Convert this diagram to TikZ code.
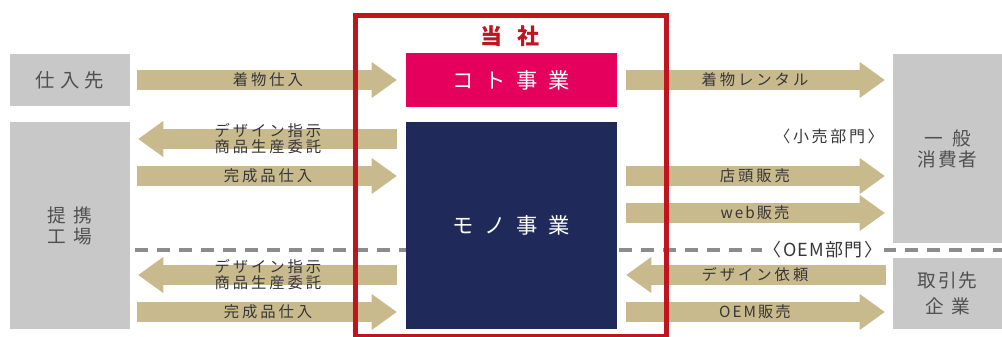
\documentclass[tikz,border=0pt]{standalone}
\usepackage{fontspec}
\setmainfont{Noto Sans CJK JP}
\usetikzlibrary{arrows.meta}
\definecolor{tanc}{RGB}{201,186,142}
\definecolor{boxgray}{RGB}{200,200,200}
\definecolor{boxtext}{RGB}{80,80,80}
\definecolor{labtext}{RGB}{55,55,55}
\definecolor{pinkc}{RGB}{228,0,92}
\definecolor{navyc}{RGB}{31,42,90}
\definecolor{redc}{RGB}{192,20,30}
\definecolor{dashc}{RGB}{140,140,140}
% letter spacing helper
\def\lspgobble#1{}
\def\lspkeep#1{#1}
\def\lspiter#1#2{#1\ifx\relax#2\expandafter\lspgobble\else\hspace{\lspgap}\expandafter\lspkeep\fi{\lspiter#2}}
\newcommand\lsp[2]{\def\lspgap{#1}\lspiter#2\relax}
\begin{document}
\begin{tikzpicture}[x=0.75pt,y=-0.75pt,
  graybox/.style={fill=boxgray, draw=none, inner sep=0pt, text=boxtext, align=center},
  bizbox/.style={draw=none, inner sep=0pt, text=white, font=\fontsize{16}{18}\selectfont},
  barrow/.style={draw=tanc, line width=15pt,
    -{Triangle[length=18.75pt,width=27pt,line width=0pt]}},
  alabel/.style={text=labtext, inner sep=0pt, align=center,
    font=\fontsize{11.5}{12}\selectfont},
  dashline/.style={draw=dashc, line width=3pt, dash pattern=on 9.75pt off 6.75pt},
  redframe/.style={draw=redc, line width=3.75pt}
]
\useasboundingbox (0,0) rectangle (1002,336);

% row coordinates
\coordinate (r1) at (0,80);
\coordinate (r2) at (0,139);
\coordinate (r3) at (0,176);
\coordinate (r4) at (0,275);
\coordinate (r5) at (0,312);
\coordinate (q3) at (0,176);
\coordinate (q4) at (0,213);
\coordinate (q5) at (0,275);
\coordinate (q6) at (0,312);
\coordinate (dl) at (135,250);
\coordinate (dr) at (1002,250);

% dashed divider (drawn first, boxes cover it)
\draw[dashline] (dl) -- (dr);

% boxes
\node[graybox, minimum width=90pt, minimum height=39pt,
  font=\fontsize{14.5}{16}\selectfont] (shiire) at (70,80) {\lsp{4pt}{仕入先}};
\node[graybox, minimum width=90pt, minimum height=155.25pt,
  font=\fontsize{14}{15.75}\selectfont] (kojo) at (70,225.5) {\lsp{5.5pt}{提携}\\\lsp{5.5pt}{工場}};
\node[bizbox, fill=pinkc, minimum width=158.25pt, minimum height=40.5pt] (koto) at (511.5,80) {\lsp{8pt}{コト事業}};
\node[bizbox, fill=navyc, minimum width=158.25pt, minimum height=155.25pt] (mono) at (511.5,225.5) {\lsp{8pt}{モノ事業}};
\node[graybox, minimum width=81.75pt, minimum height=141.75pt,
  font=\fontsize{14}{15.75}\selectfont] (ippan) at (947.5,148.5) {\lsp{7pt}{一般}\\\lsp{1.5pt}{消費者}};
\node[graybox, minimum width=81.75pt, minimum height=53.25pt,
  font=\fontsize{14}{19.5}\selectfont] (tori) at (947.5,293.5) {\lsp{1.5pt}{取引先}\\\lsp{5.5pt}{企業}};

% left arrows
\draw[barrow, shorten <=5.25pt, shorten >=6.75pt] (shiire.east |- r1) -- node[alabel]{\lsp{2.2pt}{着物仕入}} (koto.west |- r1);
\draw[barrow, shorten <=6.75pt, shorten >=6pt] (mono.west |- r2) -- node[alabel]{\lsp{2.2pt}{デザイン指示}\\\lsp{2.2pt}{商品生産委託}} (kojo.east |- r2);
\draw[barrow, shorten <=5.25pt, shorten >=6.75pt] (kojo.east |- r3) -- node[alabel]{\lsp{2.2pt}{完成品仕入}} (mono.west |- r3);
\draw[barrow, shorten <=6.75pt, shorten >=6pt] (mono.west |- r4) -- node[alabel]{\lsp{2.2pt}{デザイン指示}\\\lsp{2.2pt}{商品生産委託}} (kojo.east |- r4);
\draw[barrow, shorten <=5.25pt, shorten >=6.75pt] (kojo.east |- r5) -- node[alabel]{\lsp{2.2pt}{完成品仕入}} (mono.west |- r5);

% right arrows
\draw[barrow, shorten <=6.75pt, shorten >=6pt] (koto.east |- r1) -- node[alabel]{\lsp{2.2pt}{着物レンタル}} (ippan.west |- r1);
\draw[barrow, shorten <=6.75pt, shorten >=6pt] (mono.east |- q3) -- node[alabel]{\lsp{2.2pt}{店頭販売}} (ippan.west |- q3);
\draw[barrow, shorten <=6.75pt, shorten >=6pt] (mono.east |- q4) -- node[alabel]{\lsp{1.5pt}{web販売}} (ippan.west |- q4);
\draw[barrow, shorten <=5.25pt, shorten >=6.75pt] (tori.west |- q5) -- node[alabel]{\lsp{2.2pt}{デザイン依頼}} (mono.east |- q5);
\draw[barrow, shorten <=6.75pt, shorten >=6pt] (mono.east |- q6) -- node[alabel]{\lsp{1.5pt}{OEM販売}} (tori.west |- q6);

% section labels
\node[text=labtext, inner sep=0pt, font=\fontsize{12}{13}\selectfont] (kouri) at (829,136) {\lsp{2pt}{〈小売部門〉}};
\node[text=labtext, fill=white, inner xsep=1pt, inner ysep=1pt, font=\fontsize{13.5}{14}\selectfont] (oem) at (823,250) {\lsp{1pt}{〈OEM部門〉}};

% company frame
\draw[redframe] (355.5,15) rectangle (666,336);
\node[text=redc, inner sep=0pt, font=\fontsize{16.5}{18}\selectfont\bfseries] (tosha) at (510,36) {\lsp{11pt}{当社}};
\end{tikzpicture}
\end{document}
